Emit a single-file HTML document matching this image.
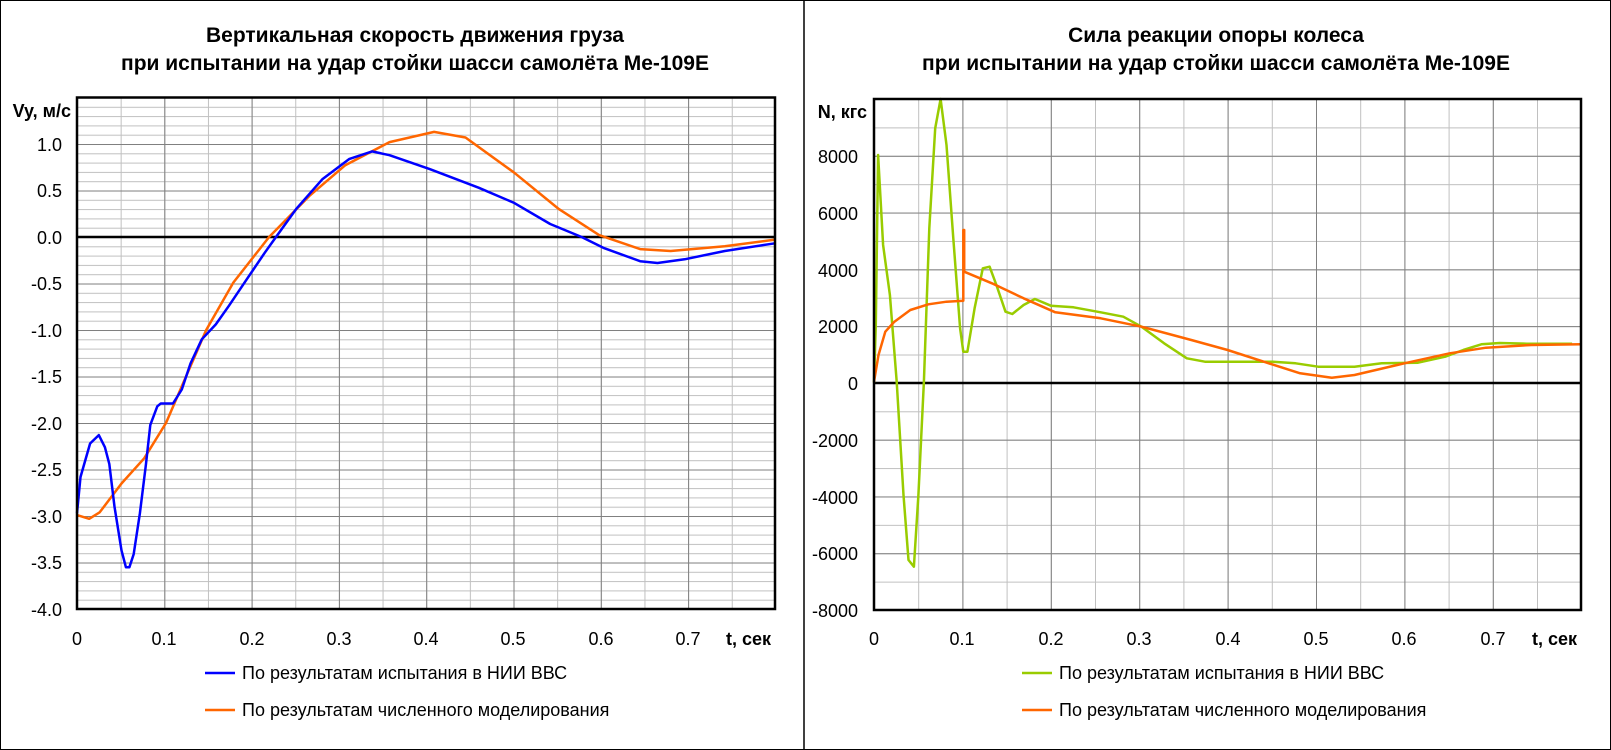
<!DOCTYPE html>
<html><head><meta charset="utf-8"><style>html,body{margin:0;padding:0;background:#fff}svg{display:block}</style></head>
<body>
<svg width="1611" height="750" xmlns="http://www.w3.org/2000/svg" font-family="Liberation Sans, Arial, sans-serif">
<defs>
<pattern id="lminh" patternUnits="userSpaceOnUse" x="0" y="97.5" width="10" height="9.3"><rect x="0" y="0" width="10" height="1" fill="#c0c0c0"/></pattern>
<pattern id="lmajh" patternUnits="userSpaceOnUse" x="0" y="97.5" width="10" height="46.5"><rect x="0" y="0" width="10" height="1" fill="#808080"/></pattern>
<pattern id="lminv" patternUnits="userSpaceOnUse" x="77" y="0" width="43.65" height="10"><rect x="0" y="0" width="1" height="10" fill="#c0c0c0"/></pattern>
<pattern id="lmajv" patternUnits="userSpaceOnUse" x="77" y="0" width="87.3" height="10"><rect x="0" y="0" width="1" height="10" fill="#808080"/></pattern>
<pattern id="rminh" patternUnits="userSpaceOnUse" x="0" y="99" width="10" height="28.39"><rect x="0" y="0" width="10" height="1" fill="#c0c0c0"/></pattern>
<pattern id="rmajh" patternUnits="userSpaceOnUse" x="0" y="99" width="10" height="56.78"><rect x="0" y="0" width="10" height="1" fill="#808080"/></pattern>
<pattern id="rminv" patternUnits="userSpaceOnUse" x="874" y="0" width="44.2" height="10"><rect x="0" y="0" width="1" height="10" fill="#c0c0c0"/></pattern>
<pattern id="rmajv" patternUnits="userSpaceOnUse" x="874" y="0" width="88.4" height="10"><rect x="0" y="0" width="1" height="10" fill="#808080"/></pattern>
</defs>
<rect x="0.5" y="0.5" width="1610" height="749" fill="none" stroke="#000" stroke-width="1"/>
<line x1="804" y1="0" x2="804" y2="750" stroke="#000" stroke-width="1.5"/>

<!-- LEFT CHART -->
<text x="415" y="42" text-anchor="middle" font-size="21" font-weight="bold">Вертикальная скорость движения груза</text>
<text x="415" y="70" text-anchor="middle" font-size="21" font-weight="bold">при испытании на удар стойки шасси самолёта Ме-109Е</text>
<rect x="77" y="97.5" width="698" height="511.5" fill="url(#lminh)"/>
<rect x="77" y="97.5" width="698" height="511.5" fill="url(#lminv)"/>
<rect x="77" y="97.5" width="698" height="511.5" fill="url(#lmajh)"/>
<rect x="77" y="97.5" width="698" height="511.5" fill="url(#lmajv)"/>
<line x1="77" y1="237" x2="775" y2="237" stroke="#000" stroke-width="2.5"/>
<polyline fill="none" stroke="#ff6600" stroke-width="2.5" stroke-linejoin="round" points="77,515.1 89.2,518.8 99.7,512.3 121.5,483.5 144.2,458.3 166,423 184.4,380.2 206.2,330 233.3,282.6 269.1,237 309.2,196.1 345,165.4 389.5,142.1 434.1,131.9 465.5,137.5 514.4,172.8 558.9,209.1 599.1,235.1 640.1,249.1 670.6,251 724.8,246.3 775,239.6"/>
<polyline fill="none" stroke="#0000ff" stroke-width="2.5" stroke-linejoin="round" points="77,513.2 80.5,477 90.1,443.5 98.8,435.1 104.9,447.2 109.3,463.9 114.5,506.7 121.5,550.4 125.9,567.2 129.4,567.2 133.7,554.1 139.9,513.2 146,463.9 150.3,424.9 157.3,406.3 160.8,403.5 173,403.5 181.8,389.5 190.5,363.5 201.8,339.3 215.8,324.4 228.9,305.8 246.4,279.8 264.7,252.8 276,237 296.1,209.1 322.3,179.3 349.4,158.9 372.1,151.4 389.5,155.2 429.7,169.1 478.6,187.7 513.5,202.6 550.2,224 581.6,237 604.3,248.2 640.1,261.2 657.5,263 684.6,259.3 724.8,251 775,243.3"/>
<rect x="77" y="97.5" width="698" height="511.5" fill="none" stroke="#000" stroke-width="2.5"/>
<g font-size="18" text-anchor="end">
<text x="71" y="117" font-weight="bold">Vy, м/с</text>
<text x="62" y="151">1.0</text><text x="62" y="197">0.5</text><text x="62" y="244">0.0</text>
<text x="62" y="290">-0.5</text><text x="62" y="337">-1.0</text><text x="62" y="383">-1.5</text>
<text x="62" y="430">-2.0</text><text x="62" y="476">-2.5</text><text x="62" y="523">-3.0</text>
<text x="62" y="569">-3.5</text><text x="62" y="616">-4.0</text>
</g>
<g font-size="18" text-anchor="middle">
<text x="77" y="645">0</text><text x="164" y="645">0.1</text><text x="252" y="645">0.2</text><text x="339" y="645">0.3</text>
<text x="426" y="645">0.4</text><text x="513" y="645">0.5</text><text x="601" y="645">0.6</text><text x="688" y="645">0.7</text>
</g>
<text x="726" y="645" font-size="18" font-weight="bold">t, сек</text>
<line x1="205" y1="673" x2="235" y2="673" stroke="#0000ff" stroke-width="2.5"/>
<text x="242" y="679" font-size="18">По результатам испытания в НИИ ВВС</text>
<line x1="205" y1="710" x2="235" y2="710" stroke="#ff6600" stroke-width="2.5"/>
<text x="242" y="716" font-size="18">По результатам численного моделирования</text>

<!-- RIGHT CHART -->
<text x="1216" y="42" text-anchor="middle" font-size="21" font-weight="bold">Сила реакции опоры колеса</text>
<text x="1216" y="70" text-anchor="middle" font-size="21" font-weight="bold">при испытании на удар стойки шасси самолёта Ме-109Е</text>
<rect x="874" y="99" width="707" height="511" fill="url(#rminh)"/>
<rect x="874" y="99" width="707" height="511" fill="url(#rminv)"/>
<rect x="874" y="99" width="707" height="511" fill="url(#rmajh)"/>
<rect x="874" y="99" width="707" height="511" fill="url(#rmajv)"/>
<line x1="874" y1="383" x2="1581" y2="383" stroke="#000" stroke-width="2.5"/>
<polyline fill="none" stroke="#99cc00" stroke-width="2.5" stroke-linejoin="round" points="874,382.7 875.8,325 878.1,155 883.1,245 889.9,295 896.7,381.7 903.5,495 908.5,560 913.9,566.7 918.4,495 923.9,381.7 929.3,228.3 935.2,128.3 940.6,99 946.5,145 953.3,238.3 960.1,328.3 963.3,351.7 967.4,351.7 974.6,308.3 982.8,268.3 989.6,266.7 996.4,285 1005.5,311.7 1012.3,314 1023.6,305 1034.9,299 1050.8,305.7 1073.5,307.3 1100.7,312.3 1123.3,316.7 1141.5,326.7 1164.1,343.3 1186.8,358.3 1204.9,361.7 1236.6,361.7 1272.9,361.7 1295.6,363.3 1318.2,366.7 1354.5,366.7 1381.7,363.3 1418,362.7 1445.2,356.7 1463.3,350 1481.4,344.3 1499.6,343 1526.8,343.7 1572.1,343.7"/>
<polyline fill="none" stroke="#ff6600" stroke-width="2.5" stroke-linejoin="round" points="874,381.7 878.5,355 885.3,331.7 894.4,321.7 910.3,310 928.4,304.3 946.5,301.7 963.3,300.7 963.3,230 964.2,230 964.2,271.7 991.9,283.3 1023.6,298.3 1055.3,312.3 1100.7,318.3 1141.5,326.7 1191.3,340 1227.6,350 1263.8,361.7 1300.1,373.3 1331.8,377.7 1354.5,375 1404.4,363.3 1449.7,353.3 1486,347.7 1531.3,345 1581,344.3"/>
<rect x="874" y="99" width="707" height="511" fill="none" stroke="#000" stroke-width="2.5"/>
<g font-size="18" text-anchor="end">
<text x="867" y="118" font-weight="bold">N, кгс</text>
<text x="858" y="163">8000</text><text x="858" y="220">6000</text><text x="858" y="277">4000</text>
<text x="858" y="333">2000</text><text x="858" y="390">0</text><text x="858" y="447">-2000</text>
<text x="858" y="504">-4000</text><text x="858" y="560">-6000</text><text x="858" y="617">-8000</text>
</g>
<g font-size="18" text-anchor="middle">
<text x="874" y="645">0</text><text x="962" y="645">0.1</text><text x="1051" y="645">0.2</text><text x="1139" y="645">0.3</text>
<text x="1228" y="645">0.4</text><text x="1316" y="645">0.5</text><text x="1404" y="645">0.6</text><text x="1493" y="645">0.7</text>
</g>
<text x="1532" y="645" font-size="18" font-weight="bold">t, сек</text>
<line x1="1022" y1="673" x2="1052" y2="673" stroke="#99cc00" stroke-width="2.5"/>
<text x="1059" y="679" font-size="18">По результатам испытания в НИИ ВВС</text>
<line x1="1022" y1="710" x2="1052" y2="710" stroke="#ff6600" stroke-width="2.5"/>
<text x="1059" y="716" font-size="18">По результатам численного моделирования</text>
</svg>
</body></html>
